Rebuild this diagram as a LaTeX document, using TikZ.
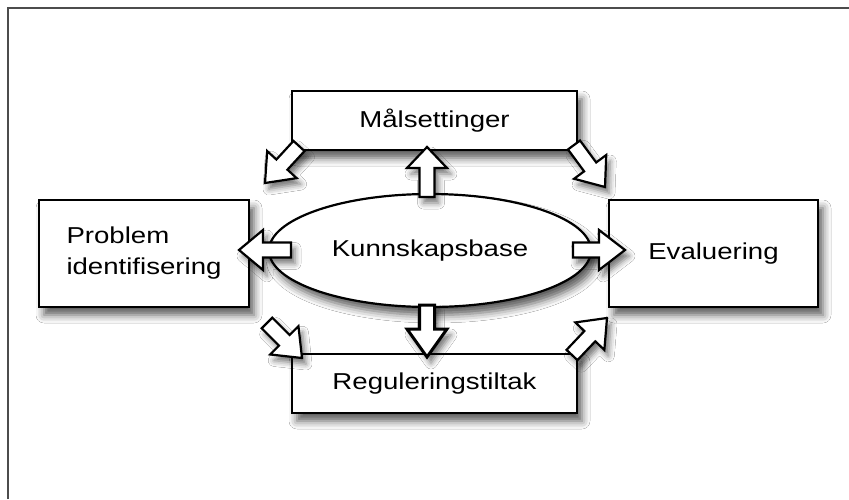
\documentclass[tikz,border=0pt]{standalone}
\usepackage{fontspec}
\setmainfont[FakeStretch=1.2]{Liberation Sans}
\usetikzlibrary{calc,shadows.blur,shapes.geometric}
\tikzset{
  frameline/.style={draw=black!70, line width=1.6pt},
  box/.style={draw=black, line width=2.6pt, fill=white, inner sep=0pt,
    blur shadow={shadow xshift=5pt, shadow yshift=-8pt, shadow blur radius=8pt, shadow opacity=65}},
  kbase/.style={ellipse, draw=black, line width=2.2pt, fill=white, inner sep=0pt,
    blur shadow={shadow xshift=5pt, shadow yshift=-8pt, shadow blur radius=8pt, shadow opacity=65}},
  lbl/.style={font=\fontsize{23}{31}\selectfont},
  blockarr/.style={draw=black, line width=2.2pt, fill=white, line join=miter,
    blur shadow={shadow xshift=4pt, shadow yshift=-6pt, shadow blur radius=6pt, shadow opacity=55}}
}
\newcommand\barrow[4][]{%
  \coordinate (nk) at ($(#3)!#4!(#2)$);
  \draw[blockarr,#1] ($(#2)!7.5pt!90:(#3)$) -- ($(nk)!7.5pt!90:(#3)$) -- ($(nk)!20pt!90:(#3)$) -- (#3)
    -- ($(nk)!20pt!-90:(#3)$) -- ($(nk)!7.5pt!-90:(#3)$) -- ($(#2)!7.5pt!-90:(#3)$) -- cycle;
}
\begin{document}
\begin{tikzpicture}[x=1pt,y=-1pt]
\useasboundingbox (0,0) rectangle (849,499);
\fill[white] (0,0) rectangle (849,499);
\draw[frameline] (8,499) -- (8,8) -- (849,8);

\node[box, lbl, minimum width=285pt, minimum height=59pt] (mal) at (434.5,120.5) {Målsettinger};
\node[box, lbl, minimum width=210pt, minimum height=107pt, align=left] (prob) at (144,253.5) {Problem\\identifisering};
\node[box, lbl, minimum width=209pt, minimum height=107pt] (eval) at (713.5,253.5) {Evaluering};
\node[box, lbl, minimum width=285pt, minimum height=59pt] (reg) at (434.5,383.5) {Reguleringstiltak};
\node[kbase, lbl, minimum width=322pt, minimum height=113pt] (kb) at (430,250.5) {Kunnskapsbase};

% arrow end points
\coordinate (upA) at (427,197);  \coordinate (upB) at (427,147);
\coordinate (dnA) at (427,305);  \coordinate (dnB) at (427,357);
\coordinate (lfA) at (291,250);  \coordinate (lfB) at (239,250);
\coordinate (rtA) at (573,250);  \coordinate (rtB) at (625,250);
\coordinate (tlA) at (299,146);  \coordinate (tlB) at (265,183);
\coordinate (trA) at (574,145);  \coordinate (trB) at (605,187);
\coordinate (blA) at (267,323);  \coordinate (blB) at (302,358);
\coordinate (brA) at (572,355);  \coordinate (brB) at (607,318);

\barrow{upA}{upB}{21pt}
\barrow[line width=3pt]{dnA}{dnB}{28pt}
\barrow{lfA}{lfB}{24pt}
\barrow{rtA}{rtB}{26pt}
\barrow{tlA}{tlB}{25pt}
\barrow{trA}{trB}{25pt}
\barrow{blA}{blB}{25pt}
\barrow{brA}{brB}{25pt}
\end{tikzpicture}
\end{document}
